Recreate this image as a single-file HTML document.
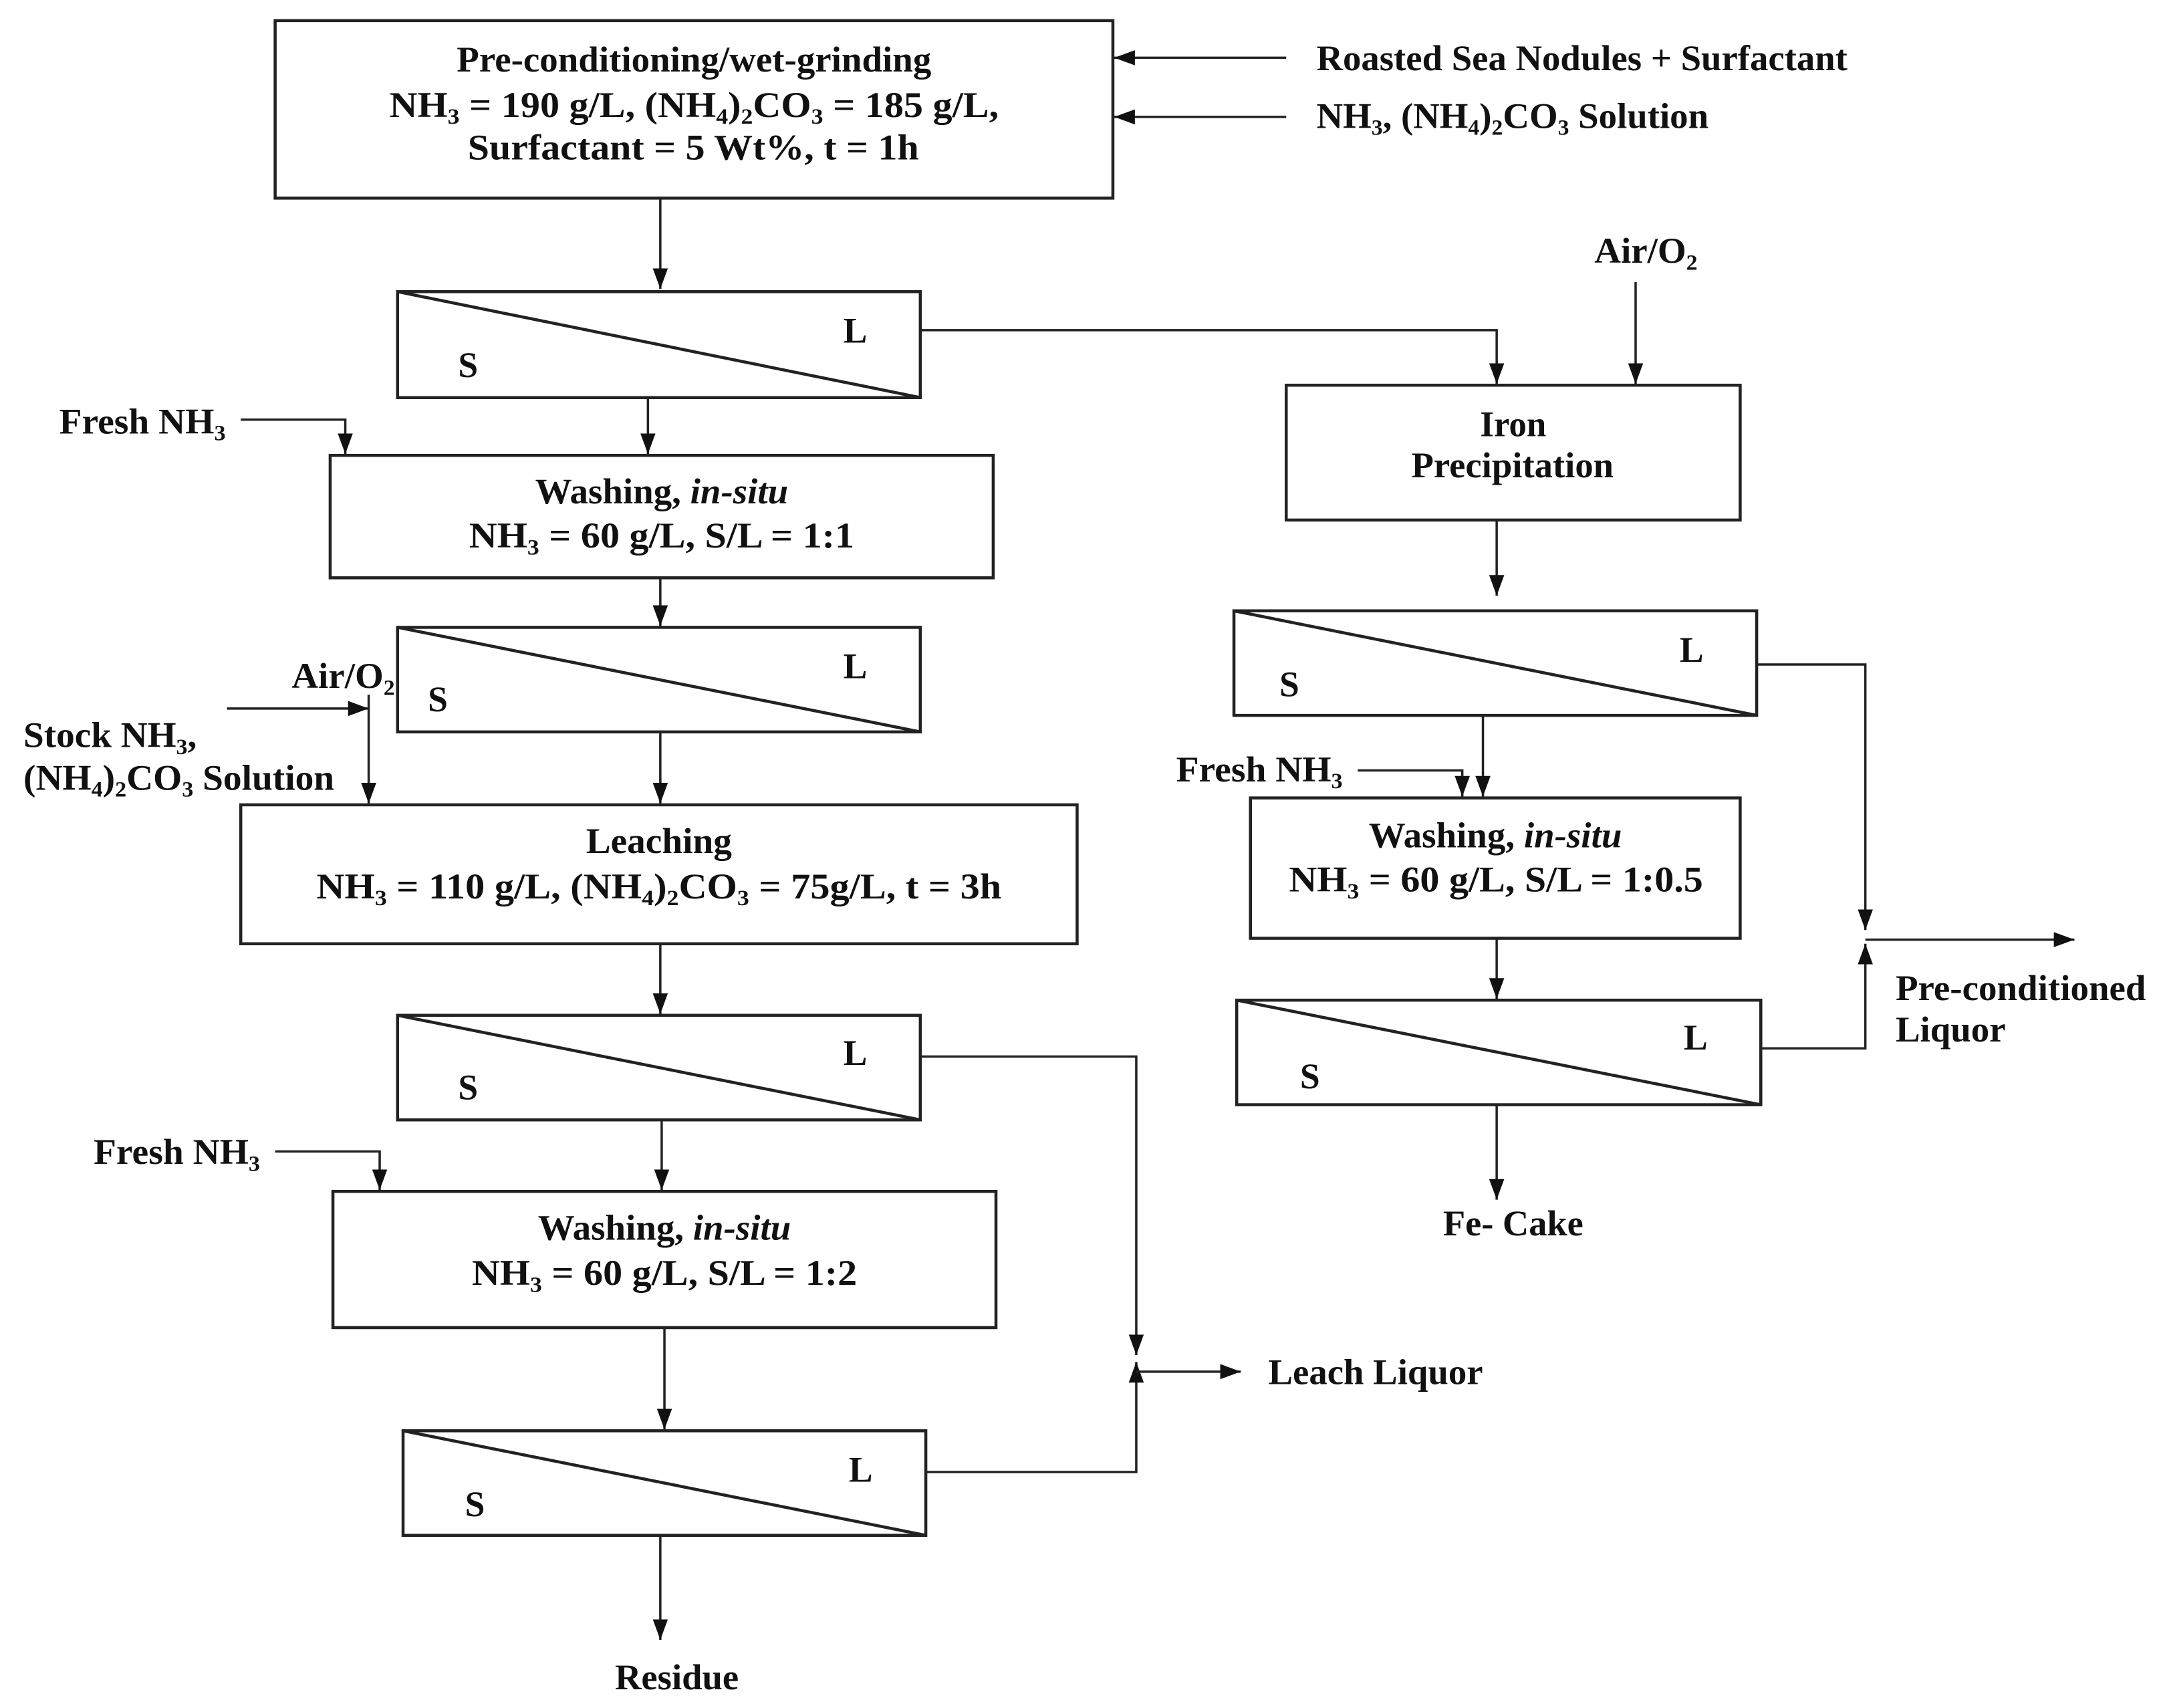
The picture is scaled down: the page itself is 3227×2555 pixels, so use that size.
<!DOCTYPE html>
<html><head><meta charset="utf-8"><style>
html,body{margin:0;padding:0;background:#fff;}
svg{display:block;}
text{font-family:"Liberation Serif",serif;font-weight:bold;font-size:26px;fill:#111;}
.s{font-size:16px;}
</style></head><body>
<svg width="3227" height="2555" viewBox="0 0 1568 1241.5" xmlns="http://www.w3.org/2000/svg">
<defs>
<marker id="a" viewBox="0 0 15 11" refX="15" refY="5.5" markerWidth="15" markerHeight="11" markerUnits="userSpaceOnUse" orient="auto">
<path d="M0,0 L15,5.5 L0,11 z" fill="#111"/></marker>
</defs>
<g fill="none" stroke="#222" stroke-width="2.2">
<rect x="200" y="15" width="609" height="129"/>
<rect x="289" y="212" width="380" height="77"/><line x1="289" y1="212" x2="669" y2="289"/>
<rect x="240" y="331" width="482" height="89"/>
<rect x="289" y="456" width="380" height="76"/><line x1="289" y1="456" x2="669" y2="532"/>
<rect x="175" y="585" width="608" height="101"/>
<rect x="289" y="738" width="380" height="76"/><line x1="289" y1="738" x2="669" y2="814"/>
<rect x="242" y="866" width="482" height="99"/>
<rect x="293" y="1040" width="380" height="76"/><line x1="293" y1="1040" x2="673" y2="1116"/>
<rect x="935" y="280" width="330" height="98"/>
<rect x="897" y="444" width="380" height="76"/><line x1="897" y1="444" x2="1277" y2="520"/>
<rect x="909" y="580" width="356" height="102"/>
<rect x="899" y="727" width="381" height="76"/><line x1="899" y1="727" x2="1280" y2="803"/>
</g>
<g fill="none" stroke="#222" stroke-width="1.7" marker-end="url(#a)">
<line x1="935" y1="42" x2="810" y2="42"/>
<line x1="935" y1="85" x2="810" y2="85"/>
<line x1="480" y1="144" x2="480" y2="210"/>
<polyline points="669,240 1088,240 1088,279"/>
<line x1="1189" y1="205" x2="1189" y2="279"/>
<line x1="471" y1="289" x2="471" y2="330"/>
<polyline points="175,305 251,305 251,330"/>
<line x1="480" y1="420" x2="480" y2="455"/>
<line x1="165" y1="515" x2="268" y2="515"/>
<line x1="268" y1="505" x2="268" y2="584"/>
<line x1="480" y1="532" x2="480" y2="584"/>
<line x1="480" y1="686" x2="480" y2="737"/>
<polyline points="669,768 826,768 826,985"/>
<line x1="481" y1="814" x2="481" y2="865"/>
<polyline points="200,837 276,837 276,865"/>
<line x1="483" y1="965" x2="483" y2="1039"/>
<polyline points="673,1070 826,1070 826,990"/>
<line x1="826" y1="997" x2="902" y2="997"/>
<line x1="480" y1="1116" x2="480" y2="1192"/>
<line x1="1088" y1="378" x2="1088" y2="433"/>
<polyline points="1277,483 1356,483 1356,676"/>
<line x1="1078" y1="520" x2="1078" y2="579"/>
<polyline points="987,560 1063,560 1063,579"/>
<line x1="1088" y1="682" x2="1088" y2="726"/>
<polyline points="1280,762 1356,762 1356,686"/>
<line x1="1356" y1="683" x2="1508" y2="683"/>
<line x1="1088" y1="803" x2="1088" y2="872"/>
</g>
<text x="332" y="52" textLength="345" lengthAdjust="spacingAndGlyphs">Pre-conditioning/wet-grinding</text>
<text x="283" y="85" textLength="443" lengthAdjust="spacingAndGlyphs">NH<tspan class="s" dy="5">3</tspan><tspan dy="-5"> = 190 g/L, (NH</tspan><tspan class="s" dy="5">4</tspan><tspan dy="-5">)</tspan><tspan class="s" dy="5">2</tspan><tspan dy="-5">CO</tspan><tspan class="s" dy="5">3</tspan><tspan dy="-5"> = 185 g/L,</tspan></text>
<text x="340" y="116" textLength="328" lengthAdjust="spacingAndGlyphs">Surfactant = 5 Wt%, t = 1h</text>
<text x="957" y="51" textLength="386" lengthAdjust="spacingAndGlyphs">Roasted Sea Nodules + Surfactant</text>
<text x="957" y="93" textLength="285" lengthAdjust="spacingAndGlyphs">NH<tspan class="s" dy="5">3</tspan><tspan dy="-5">, (NH</tspan><tspan class="s" dy="5">4</tspan><tspan dy="-5">)</tspan><tspan class="s" dy="5">2</tspan><tspan dy="-5">CO</tspan><tspan class="s" dy="5">3</tspan><tspan dy="-5"> Solution</tspan></text>
<text x="333" y="274">S</text><text x="613" y="249">L</text>
<text x="1159" y="191" textLength="75" lengthAdjust="spacingAndGlyphs">Air/O<tspan class="s" dy="5">2</tspan></text>
<text x="1076" y="317" textLength="48" lengthAdjust="spacingAndGlyphs">Iron</text>
<text x="1026" y="347" textLength="147" lengthAdjust="spacingAndGlyphs">Precipitation</text>
<text x="43" y="315" textLength="121" lengthAdjust="spacingAndGlyphs">Fresh NH<tspan class="s" dy="5">3</tspan></text>
<text x="389" y="366" textLength="184" lengthAdjust="spacingAndGlyphs">Washing, <tspan font-style="italic">in-situ</tspan></text>
<text x="341" y="398" textLength="280" lengthAdjust="spacingAndGlyphs">NH<tspan class="s" dy="5">3</tspan><tspan dy="-5"> = 60 g/L, S/L = 1:1</tspan></text>
<text x="311" y="517">S</text><text x="613" y="493">L</text>
<text x="212" y="500" textLength="75" lengthAdjust="spacingAndGlyphs">Air/O<tspan class="s" dy="5">2</tspan></text>
<text x="17" y="543" textLength="126" lengthAdjust="spacingAndGlyphs">Stock NH<tspan class="s" dy="5">3</tspan><tspan dy="-5">,</tspan></text>
<text x="17" y="574" textLength="226" lengthAdjust="spacingAndGlyphs">(NH<tspan class="s" dy="5">4</tspan><tspan dy="-5">)</tspan><tspan class="s" dy="5">2</tspan><tspan dy="-5">CO</tspan><tspan class="s" dy="5">3</tspan><tspan dy="-5"> Solution</tspan></text>
<text x="426" y="620" textLength="106" lengthAdjust="spacingAndGlyphs">Leaching</text>
<text x="230" y="653" textLength="498" lengthAdjust="spacingAndGlyphs">NH<tspan class="s" dy="5">3</tspan><tspan dy="-5"> = 110 g/L, (NH</tspan><tspan class="s" dy="5">4</tspan><tspan dy="-5">)</tspan><tspan class="s" dy="5">2</tspan><tspan dy="-5">CO</tspan><tspan class="s" dy="5">3</tspan><tspan dy="-5"> = 75g/L, t = 3h</tspan></text>
<text x="333" y="799">S</text><text x="613" y="774">L</text>
<text x="68" y="846" textLength="121" lengthAdjust="spacingAndGlyphs">Fresh NH<tspan class="s" dy="5">3</tspan></text>
<text x="391" y="901" textLength="184" lengthAdjust="spacingAndGlyphs">Washing, <tspan font-style="italic">in-situ</tspan></text>
<text x="343" y="934" textLength="280" lengthAdjust="spacingAndGlyphs">NH<tspan class="s" dy="5">3</tspan><tspan dy="-5"> = 60 g/L, S/L = 1:2</tspan></text>
<text x="338" y="1102">S</text><text x="617" y="1077">L</text>
<text x="922" y="1006" textLength="156" lengthAdjust="spacingAndGlyphs">Leach Liquor</text>
<text x="447" y="1228" textLength="90" lengthAdjust="spacingAndGlyphs">Residue</text>
<text x="930" y="506">S</text><text x="1221" y="481">L</text>
<text x="855" y="568" textLength="121" lengthAdjust="spacingAndGlyphs">Fresh NH<tspan class="s" dy="5">3</tspan></text>
<text x="995" y="616" textLength="184" lengthAdjust="spacingAndGlyphs">Washing, <tspan font-style="italic">in-situ</tspan></text>
<text x="937" y="648" textLength="301" lengthAdjust="spacingAndGlyphs">NH<tspan class="s" dy="5">3</tspan><tspan dy="-5"> = 60 g/L, S/L = 1:0.5</tspan></text>
<text x="945" y="791">S</text><text x="1224" y="763">L</text>
<text x="1378" y="727" textLength="182" lengthAdjust="spacingAndGlyphs">Pre-conditioned</text>
<text x="1378" y="757" textLength="80" lengthAdjust="spacingAndGlyphs">Liquor</text>
<text x="1049" y="898" textLength="102" lengthAdjust="spacingAndGlyphs">Fe- Cake</text>
</svg>
</body></html>
